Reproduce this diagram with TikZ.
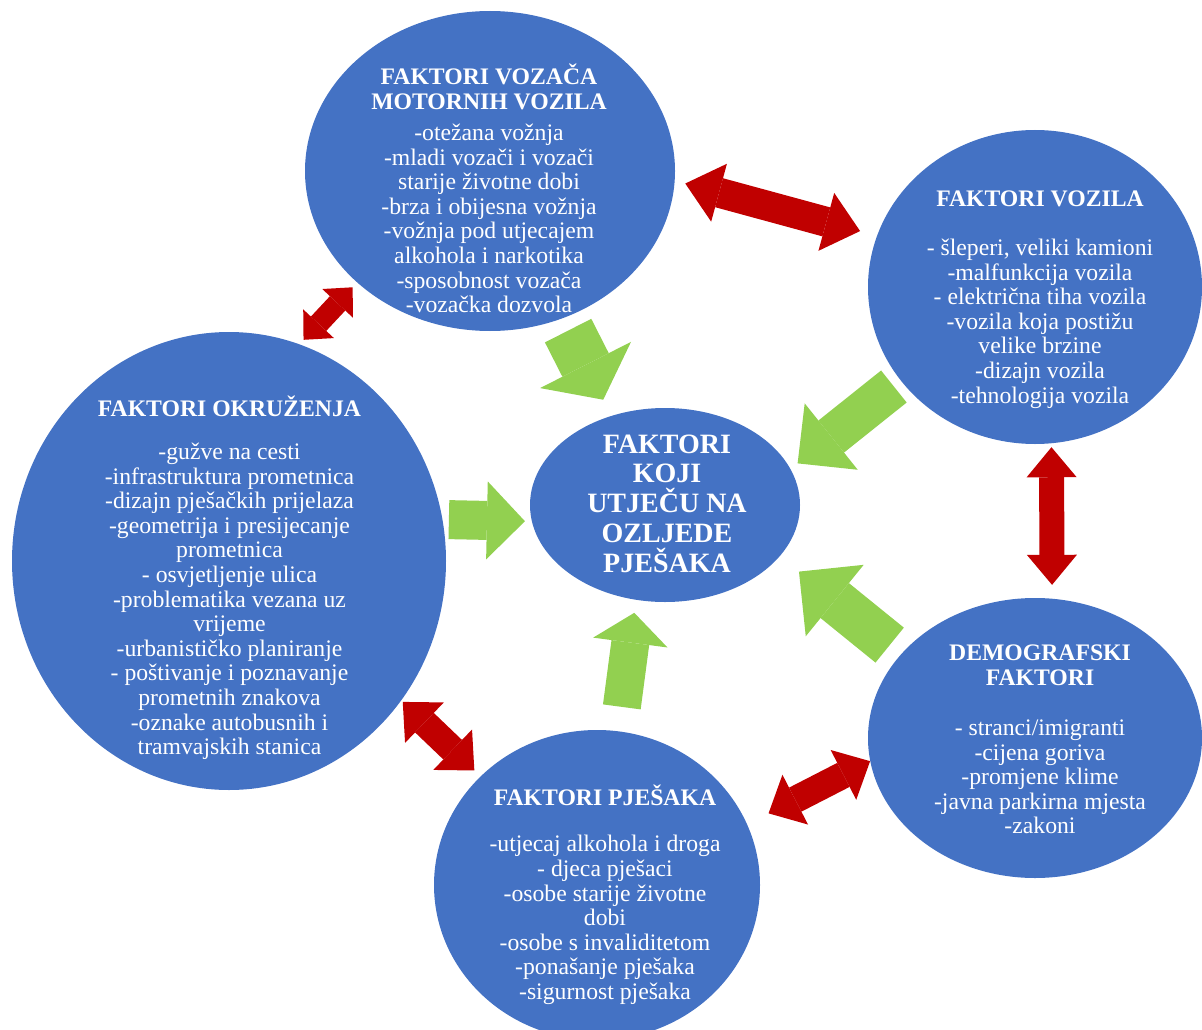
\documentclass[tikz,border=0pt]{standalone}
\usepackage{fontspec}
\setmainfont{Liberation Serif}
\usetikzlibrary{shapes.geometric,arrows.meta}
\definecolor{plava}{HTML}{4472C4}
\definecolor{crvena}{HTML}{C00000}
\definecolor{zelena}{HTML}{92D050}
\lineskiplimit=-20pt
\begin{document}
\begin{tikzpicture}[x=1pt, y=-1pt,
	krug/.style={ellipse, fill=plava, inner sep=0pt},
	naslov/.style={text=white, anchor=north, inner sep=0pt, align=center, font=\fontsize{23.7}{25}\selectfont\bfseries},
	popis/.style={text=white, anchor=north, inner sep=0pt, align=center, font=\fontsize{23.7}{24.6}\selectfont},
	zstr/.style n args={3}{draw=zelena, line width=#1, -{Triangle[width=#2, length=#3, line width=0pt]}},
	cstr/.style n args={3}{draw=crvena, line width=#1, {Triangle[width=#2, length=#3, line width=0pt]}-{Triangle[width=#2, length=#3, line width=0pt]}}]
	\useasboundingbox (0,0) rectangle (1202,1030);
	\clip (0,0) rectangle (1202,1030);
	% krugovi
	\node[krug, minimum width=370, minimum height=320] (vozac) at (490,171) {};
	\node[krug, minimum width=334, minimum height=314] (vozila) at (1035,287) {};
	\node[krug, minimum width=434, minimum height=458] (okruzenje) at (229,561) {};
	\node[krug, minimum width=270, minimum height=194] (srediste) at (665,505) {};
	\node[krug, minimum width=334, minimum height=280] (demo) at (1035,738) {};
	\node[krug, minimum width=326, minimum height=310] (pjesak) at (597,885) {};
	% tekst
	\node[naslov] (vozacN) at (489,64) {\strut FAKTORI VOZAČA\\MOTORNIH VOZILA};
	\node[popis] (vozacP) at (489,123) {\strut -otežana vožnja\\-mladi vozači i vozači\\starije životne dobi\\-brza i obijesna vožnja\\-vožnja pod utjecajem\\alkohola i narkotika\\-sposobnost vozača\\-vozačka dozvola};
	\node[naslov] (vozilaN) at (1040,188.5) {\strut FAKTORI VOZILA};
	\node[popis] (vozilaP) at (1040,238) {\strut - šleperi, veliki kamioni\\-malfunkcija vozila\\- električna tiha vozila\\-vozila koja postižu\\velike brzine\\-dizajn vozila\\-tehnologija vozila};
	\node[naslov] (okruzenjeN) at (229.5,395.5) {\strut FAKTORI OKRUŽENJA};
	\node[popis] (okruzenjeP) at (229.5,442) {\strut -gužve na cesti\\-infrastruktura prometnica\\-dizajn pješačkih prijelaza\\-geometrija i presijecanje\\prometnica\\- osvjetljenje ulica\\-problematika vezana uz\\vrijeme\\-urbanističko planiranje\\- poštivanje i poznavanje\\prometnih znakova\\-oznake autobusnih i\\tramvajskih stanica};
	\node[naslov, font=\fontsize{28}{29.75}\selectfont\bfseries] (sredisteN) at (667,432) {\strut FAKTORI\\KOJI\\UTJEČU NA\\OZLJEDE\\PJEŠAKA};
	\node[naslov] (demoN) at (1040,642.5) {\strut DEMOGRAFSKI\\FAKTORI};
	\node[popis] (demoP) at (1040,718) {\strut - stranci/imigranti\\-cijena goriva\\-promjene klime\\-javna parkirna mjesta\\-zakoni};
	\node[naslov] (pjesakN) at (605,784.5) {\strut FAKTORI PJEŠAKA};
	\node[popis] (pjesakP) at (605,834.5) {\strut -utjecaj alkohola i droga\\- djeca pješaci\\-osobe starije životne\\dobi\\-osobe s invaliditetom\\-ponašanje pješaka\\-sigurnost pješaka};
	% zelene strelice prema sredini
	\draw[zstr={52pt}{102pt}{39pt}, shorten <=13.5pt, shorten >=18pt] (vozac.296) -- (srediste.121);
	\draw[zstr={41pt}{85pt}{43pt}, shorten <=9pt, shorten >=9pt] (vozila.215) -- (srediste.16);
	\draw[zstr={45pt}{92pt}{46pt}, shorten <=14.5pt, shorten >=24.5pt] (demo.148) -- (srediste.336);
	\draw[zstr={38pt}{75pt}{30pt}, shorten <=24.5pt, shorten >=13pt] (pjesak.82) -- (srediste.253);
	\draw[zstr={39pt}{78pt}{38pt}, shorten <=6.3pt, shorten >=6.8pt] (okruzenje.11) -- (srediste.187);
	% crvene dvostruke strelice
	\draw[cstr={30pt}{60pt}{35pt}, shorten <=10.8pt, shorten >=17.5pt] (vozac.357) -- (vozila.162);
	\draw[cstr={21pt}{42pt}{22pt}, shorten <=6pt, shorten >=6.5pt] (okruzenje.72) -- (vozac.220);
	\draw[cstr={27pt}{56pt}{30pt}, shorten <=2pt, shorten >=8.5pt] (okruzenje.321) -- (pjesak.137);
	\draw[cstr={27pt}{56pt}{30pt}, shorten <=24pt] (pjesak.22) -- (demo.188);
	\draw[cstr={25pt}{50pt}{30pt}, shorten <=3.8pt, shorten >=13.7pt] (vozila.276) -- (demo.83);
\end{tikzpicture}
\end{document}
